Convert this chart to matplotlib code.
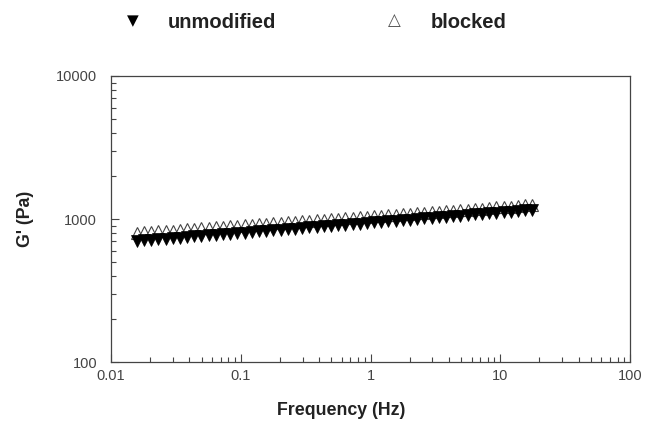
import matplotlib
matplotlib.use("Agg")
import matplotlib.pyplot as plt
from matplotlib.ticker import LogLocator, NullFormatter, FixedLocator, FixedFormatter

plt.rcParams['font.family'] = ['Liberation Sans', 'DejaVu Sans']

freq = [0.01581, 0.01797, 0.02041, 0.02318, 0.02634, 0.02992, 0.03399, 0.03862,
        0.04387, 0.04984, 0.05662, 0.06433, 0.07308, 0.08302, 0.09432, 0.1072,
        0.1217, 0.1383, 0.1571, 0.1785, 0.2028, 0.2304, 0.2617, 0.2973,
        0.3378, 0.3837, 0.4359, 0.4952, 0.5626, 0.6392, 0.7261, 0.8249,
        0.9371, 1.065, 1.209, 1.374, 1.561, 1.773, 2.015, 2.289,
        2.600, 2.954, 3.356, 3.813, 4.331, 4.920, 5.590, 6.350,
        7.214, 8.196, 9.311, 10.58, 12.02, 13.65, 15.51, 17.62]

unmodified = [702, 708, 715, 721, 728, 735, 741, 748, 755, 762,
              769, 776, 783, 790, 797, 804, 812, 819, 827, 834,
              842, 850, 857, 865, 873, 881, 889, 897, 905, 914,
              922, 930, 939, 947, 956, 965, 974, 982, 991, 1000,
              1010, 1019, 1028, 1037, 1047, 1056, 1066, 1076, 1086, 1096,
              1106, 1116, 1126, 1136, 1147, 1157]

blocked = [798, 805, 811, 818, 825, 831, 838, 845, 852, 859,
           866, 873, 881, 888, 895, 903, 910, 918, 925, 933,
           940, 948, 956, 964, 972, 980, 988, 996, 1004, 1013,
           1021, 1030, 1038, 1047, 1055, 1064, 1073, 1082, 1090, 1100,
           1109, 1118, 1127, 1136, 1146, 1155, 1165, 1174, 1184, 1194,
           1204, 1213, 1223, 1234, 1244, 1254]

x_ticks = [0.01, 0.1, 1, 10, 100]
x_labels = ['0.01', '0.1', '1', '10', '100']
y_ticks = [100, 1000, 10000]
y_labels = ['100', '1000', '10000']

fig = plt.figure(figsize=(6.45, 4.22), dpi=100)
ax = fig.add_axes([0.172, 0.142, 0.805, 0.678])

ax.plot(freq, blocked, linestyle='none', marker='^', markersize=9,
        markerfacecolor='white', markeredgecolor='#444444', markeredgewidth=0.8, zorder=2)
ax.plot(freq, unmodified, linestyle='none', marker='v', markersize=9,
        markerfacecolor='black', markeredgecolor='black', markeredgewidth=0.5, zorder=3)

ax.set_xscale('log')
ax.set_yscale('log')
ax.set_xlim(0.01, 100)
ax.set_ylim(100, 10000)

ax.xaxis.set_major_locator(FixedLocator(x_ticks))
ax.xaxis.set_major_formatter(FixedFormatter(x_labels))
ax.yaxis.set_major_locator(FixedLocator(y_ticks))
ax.yaxis.set_major_formatter(FixedFormatter(y_labels))
ax.xaxis.set_minor_locator(LogLocator(base=10, subs=range(2, 10)))
ax.yaxis.set_minor_locator(LogLocator(base=10, subs=range(2, 10)))
ax.xaxis.set_minor_formatter(NullFormatter())
ax.yaxis.set_minor_formatter(NullFormatter())

ax.tick_params(axis='both', which='major', direction='in', length=6, width=0.8,
               color='#444444', labelsize=10.5, labelcolor='#444444')
ax.tick_params(axis='x', which='major', pad=5)
ax.tick_params(axis='y', which='major', pad=10)
ax.tick_params(axis='both', which='minor', direction='in', length=3.5, width=0.8,
               color='#444444')
ax.tick_params(top=False, right=False, which='both')
for s in ax.spines.values():
    s.set_color('#444444')
    s.set_linewidth(0.9)

ax.set_xlabel('Frequency (Hz)', fontsize=12.8, fontweight='bold', color='#222222')
ax.xaxis.set_label_coords(0.443, -0.14)
ax.set_ylabel("G' (Pa)", fontsize=12.8, fontweight='bold', color='#222222', labelpad=16)

# legend row at top
fig.text(0.206, 0.950, '\u25BC', fontsize=11, ha='center', va='center', color='black',
         family=['DejaVu Sans'])
fig.text(0.26, 0.946, 'unmodified', fontsize=14.5, fontweight='bold', ha='left', va='center',
         color='#222222')
fig.text(0.612, 0.952, '\u25B3', fontsize=12, ha='center', va='center', color='#555555',
         family=['DejaVu Sans'])
fig.text(0.667, 0.946, 'blocked', fontsize=14.5, fontweight='bold', ha='left', va='center',
         color='#222222')

fig.savefig('out.png', dpi=100, facecolor='white')
